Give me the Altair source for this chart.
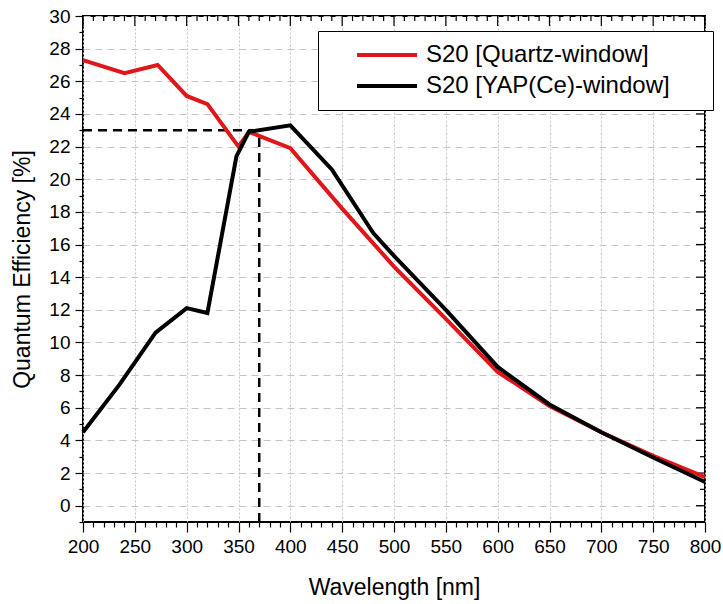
import altair as alt
import pandas as pd

# ---- data ----
quartz_wl = [200, 240, 272, 300, 320, 350, 360, 400, 450, 500, 550, 600, 650, 700, 750, 800]
quartz_qe = [27.3, 26.5, 27.0, 25.1, 24.6, 22.0, 22.9, 21.9, 18.2, 14.65, 11.45, 8.2, 6.1, 4.5, 3.05, 1.75]

yap_wl = [200, 235, 270, 300, 320, 348, 360, 400, 440, 480, 500, 550, 600, 650, 700, 750, 800]
yap_qe = [4.5, 7.4, 10.6, 12.1, 11.8, 21.4, 22.9, 23.3, 20.6, 16.7, 15.3, 12.0, 8.5, 6.2, 4.5, 2.95, 1.45]

series_names = ["S20 [Quartz-window]", "S20 [YAP(Ce)-window]"]
series_colors = ["#e0161b", "#000000"]

marker_wl = 370      # vertical dashed marker
marker_qe = 23       # horizontal dashed marker
x_start = 200
y_bottom = -1

x_ticks = list(range(200, 801, 10))
y_ticks = list(range(-1, 31))

W, H = 622, 506

df = pd.DataFrame(
    {"wl": quartz_wl + yap_wl,
     "qe": quartz_qe + yap_qe,
     "series": [series_names[0]] * len(quartz_wl) + [series_names[1]] * len(yap_wl)}
)

xscale = alt.Scale(domain=[200, 800], nice=False, zero=False)
yscale = alt.Scale(domain=[-1, 30], nice=False, zero=False)

x_axis = alt.Axis(
    values=x_ticks,
    title="Wavelength [nm]",
    labelExpr="datum.value % 50 === 0 ? datum.label : ''",
    labelOverlap=False,
    labelFlush=False,
    tickSize={"condition": {"test": "datum.value % 50 === 0", "value": 10}, "value": 5},
    gridOpacity={"condition": {"test": "datum.value % 50 === 0", "value": 1}, "value": 0},
    gridDash=[2, 2],
    labelPadding=5,
    titlePadding=20,
    domain=False,
)
y_axis = alt.Axis(
    values=y_ticks,
    title="Quantum Efficiency [%]",
    labelExpr="datum.value % 2 === 0 ? datum.label : ''",
    labelOverlap=False,
    labelFlush=False,
    tickSize={"condition": {"test": "datum.value % 2 === 0", "value": 8}, "value": 4},
    gridOpacity={"condition": {"test": "datum.value % 2 === 0", "value": 1}, "value": 0},
    gridDash=[7, 5],
    labelPadding=5,
    titlePadding=14,
    domain=False,
)

lines = alt.Chart(df).mark_line(strokeWidth=4, strokeJoin="miter").encode(
    x=alt.X("wl:Q", scale=xscale, axis=x_axis),
    y=alt.Y("qe:Q", scale=yscale, axis=y_axis),
    color=alt.Color(
        "series:N",
        scale=alt.Scale(domain=series_names, range=series_colors),
        sort=series_names,
        legend=alt.Legend(
            title=None,
            orient="none",
            legendX=235,
            legendY=15,
            symbolType="M-3,0H3M30.6,0",
            symbolSize=400,
            symbolStrokeWidth=4,
            symbolOffset=45,
            labelFontSize=24,
            labelOffset=27,
            labelLimit=500,
            rowPadding=7,
            padding=12,
            strokeColor="black",
            fillColor="white",
        ),
    ),
    order=alt.Order("wl:Q"),
)

hdash = alt.Chart(pd.DataFrame({"x": [x_start], "x2": [marker_wl], "y": [marker_qe]})).mark_rule(
    color="black", strokeWidth=2.5, strokeDash=[9, 6]
).encode(x=alt.X("x:Q", scale=xscale, axis=x_axis), x2="x2:Q", y=alt.Y("y:Q", scale=yscale, axis=y_axis))

vdash = alt.Chart(pd.DataFrame({"x": [marker_wl], "y": [y_bottom], "y2": [marker_qe]})).mark_rule(
    color="black", strokeWidth=2.5, strokeDash=[9, 6]
).encode(x=alt.X("x:Q", scale=xscale, axis=x_axis), y=alt.Y("y:Q", scale=yscale, axis=y_axis), y2="y2:Q")

# inward ticks on the top and right frame
top_df = pd.DataFrame({"v": x_ticks, "major": [v % 50 == 0 for v in x_ticks]})
right_df = pd.DataFrame({"v": y_ticks, "major": [v % 2 == 0 for v in y_ticks]})

top_major = alt.Chart(top_df).transform_filter("datum.major").mark_rule(color="black", strokeWidth=1.2).encode(
    x=alt.X("v:Q", scale=xscale, axis=x_axis), y=alt.value(0), y2=alt.value(10))
top_minor = alt.Chart(top_df).transform_filter("!datum.major").mark_rule(color="black", strokeWidth=1.2).encode(
    x=alt.X("v:Q", scale=xscale, axis=x_axis), y=alt.value(0), y2=alt.value(5))
right_major = alt.Chart(right_df).transform_filter("datum.major").mark_rule(color="black", strokeWidth=1.2).encode(
    y=alt.Y("v:Q", scale=yscale, axis=y_axis), x=alt.value(W), x2=alt.value(W - 9))
right_minor = alt.Chart(right_df).transform_filter("!datum.major").mark_rule(color="black", strokeWidth=1.2).encode(
    y=alt.Y("v:Q", scale=yscale, axis=y_axis), x=alt.value(W), x2=alt.value(W - 5))

chart = alt.layer(hdash, vdash, top_major, top_minor, right_major, right_minor, lines).properties(
    width=W, height=H,
    autosize=alt.AutoSizeParams(type="none"),
    padding={"left": 83, "top": 16, "right": 18, "bottom": 82},
).configure(
    font="Liberation Sans",
    background="white",
).configure_view(
    stroke="black", strokeWidth=2
).configure_axis(
    labelFont="Liberation Sans",
    labelFontSize=19,
    labelColor="black",
    titleFont="Liberation Sans",
    titleFontSize=23,
    titleFontWeight="normal",
    titleColor="black",
    tickColor="black",
    tickWidth=1.2,
    gridColor="#c4c4c4",
    gridWidth=1,
).configure_legend(
    labelFont="Liberation Sans",
    labelColor="black",
)

chart.save("out.html", embed_options={"renderer": "svg", "actions": False})
